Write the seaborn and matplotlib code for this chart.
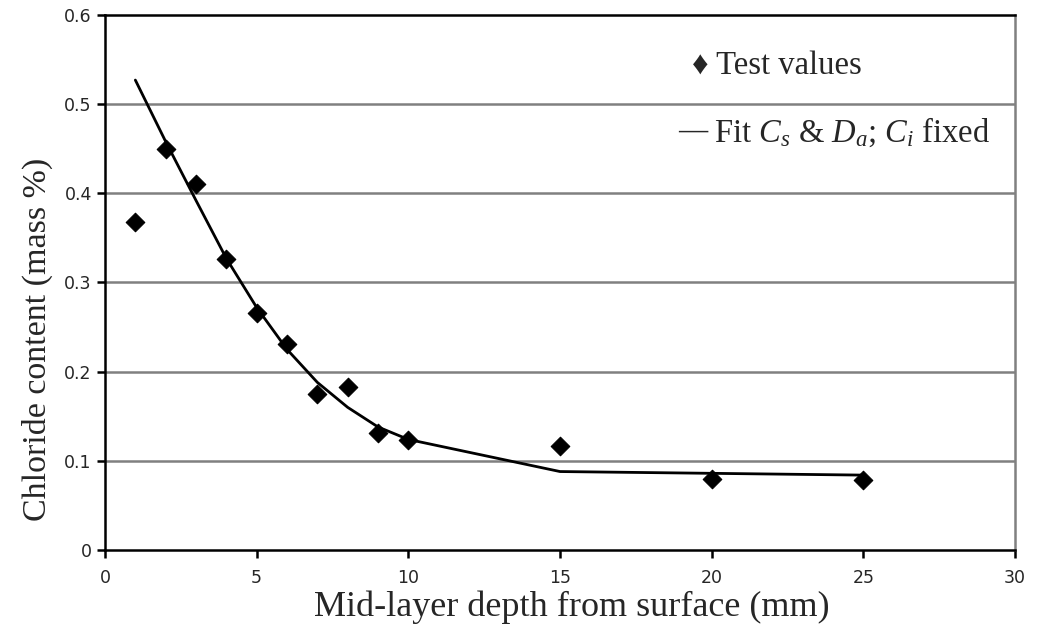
import pandas as pd
import matplotlib.pyplot as plt
import seaborn as sns

# measured chloride profile
depth = [1, 2, 3, 4, 5, 6, 7, 8, 9, 10, 15, 20, 25]
chloride = [0.368, 0.450, 0.410, 0.326, 0.266, 0.231, 0.175, 0.183, 0.131, 0.123, 0.117, 0.080, 0.078]

# fitted curve (Cs & Da fitted, Ci fixed)
fit_depth = [1, 2, 3, 4, 5, 6, 7, 8, 9, 10, 15, 20, 25]
fit_chloride = [0.527, 0.458, 0.392, 0.327, 0.272, 0.225, 0.188, 0.160, 0.138, 0.124, 0.088, 0.086, 0.084]

x_ticks = [0, 5, 10, 15, 20, 25, 30]
y_ticks = [0, 0.1, 0.2, 0.3, 0.4, 0.5, 0.6]
y_tick_labels = ["0", "0.1", "0.2", "0.3", "0.4", "0.5", "0.6"]

pts = pd.DataFrame({"depth": depth, "chloride": chloride})
fit = pd.DataFrame({"depth": fit_depth, "chloride": fit_chloride})

sns.set_style("white")
plt.rcParams["mathtext.fontset"] = "custom"
plt.rcParams["mathtext.rm"] = "Liberation Serif"
plt.rcParams["mathtext.it"] = "Liberation Serif:italic"

fig = plt.figure(figsize=(10.47, 6.4), dpi=100)
ax = fig.add_axes([0.1003, 0.1406, 0.8691, 0.836])

for y in y_ticks[1:-1]:
    ax.axhline(y, color="#808080", lw=1.8, zorder=1)

sns.lineplot(data=fit, x="depth", y="chloride", color="black", lw=2, ax=ax, zorder=3)
sns.scatterplot(data=pts, x="depth", y="chloride", marker="D", s=90, color="black",
                edgecolor="black", ax=ax, zorder=4)

ax.set_xlim(0, 30)
ax.set_ylim(0, 0.6)
ax.set_xticks(x_ticks)
ax.set_yticks(y_ticks)
ax.set_yticklabels(y_tick_labels)
ax.tick_params(axis="both", labelsize=12.5, direction="out", length=6, width=1.8,
               color="black", left=True, bottom=True)
ax.tick_params(axis="x", pad=8)
for lab in ax.get_xticklabels() + ax.get_yticklabels():
    lab.set_fontfamily("DejaVu Sans")

for side in ["left", "bottom", "top"]:
    ax.spines[side].set_color("black")
    ax.spines[side].set_linewidth(1.8)
ax.spines["right"].set_color("#808080")
ax.spines["right"].set_linewidth(1.8)

serif = "Liberation Serif"
ax.set_xlabel("Mid-layer depth from surface (mm)", fontsize=26, fontfamily=serif, labelpad=2)
ax.set_ylabel("Chloride content (mass %)", fontsize=24.5, fontfamily=serif, labelpad=8)
ax.xaxis.label.set_x(0.513)
ax.yaxis.label.set_y(0.393)

ax.text(0.645, 0.905, "\u2666 Test values", transform=ax.transAxes, fontsize=23.5,
        fontfamily=serif, va="center", ha="left")
ax.text(0.630, 0.782, "\u2014", transform=ax.transAxes, fontsize=21, fontweight="bold",
        fontfamily=serif, va="center", ha="left")
ax.text(0.669, 0.78, r"Fit $C_s$ & $D_a$; $C_i$ fixed", transform=ax.transAxes,
        fontsize=23.5, fontfamily=serif, va="center", ha="left")

fig.savefig("out.png", dpi=100)
